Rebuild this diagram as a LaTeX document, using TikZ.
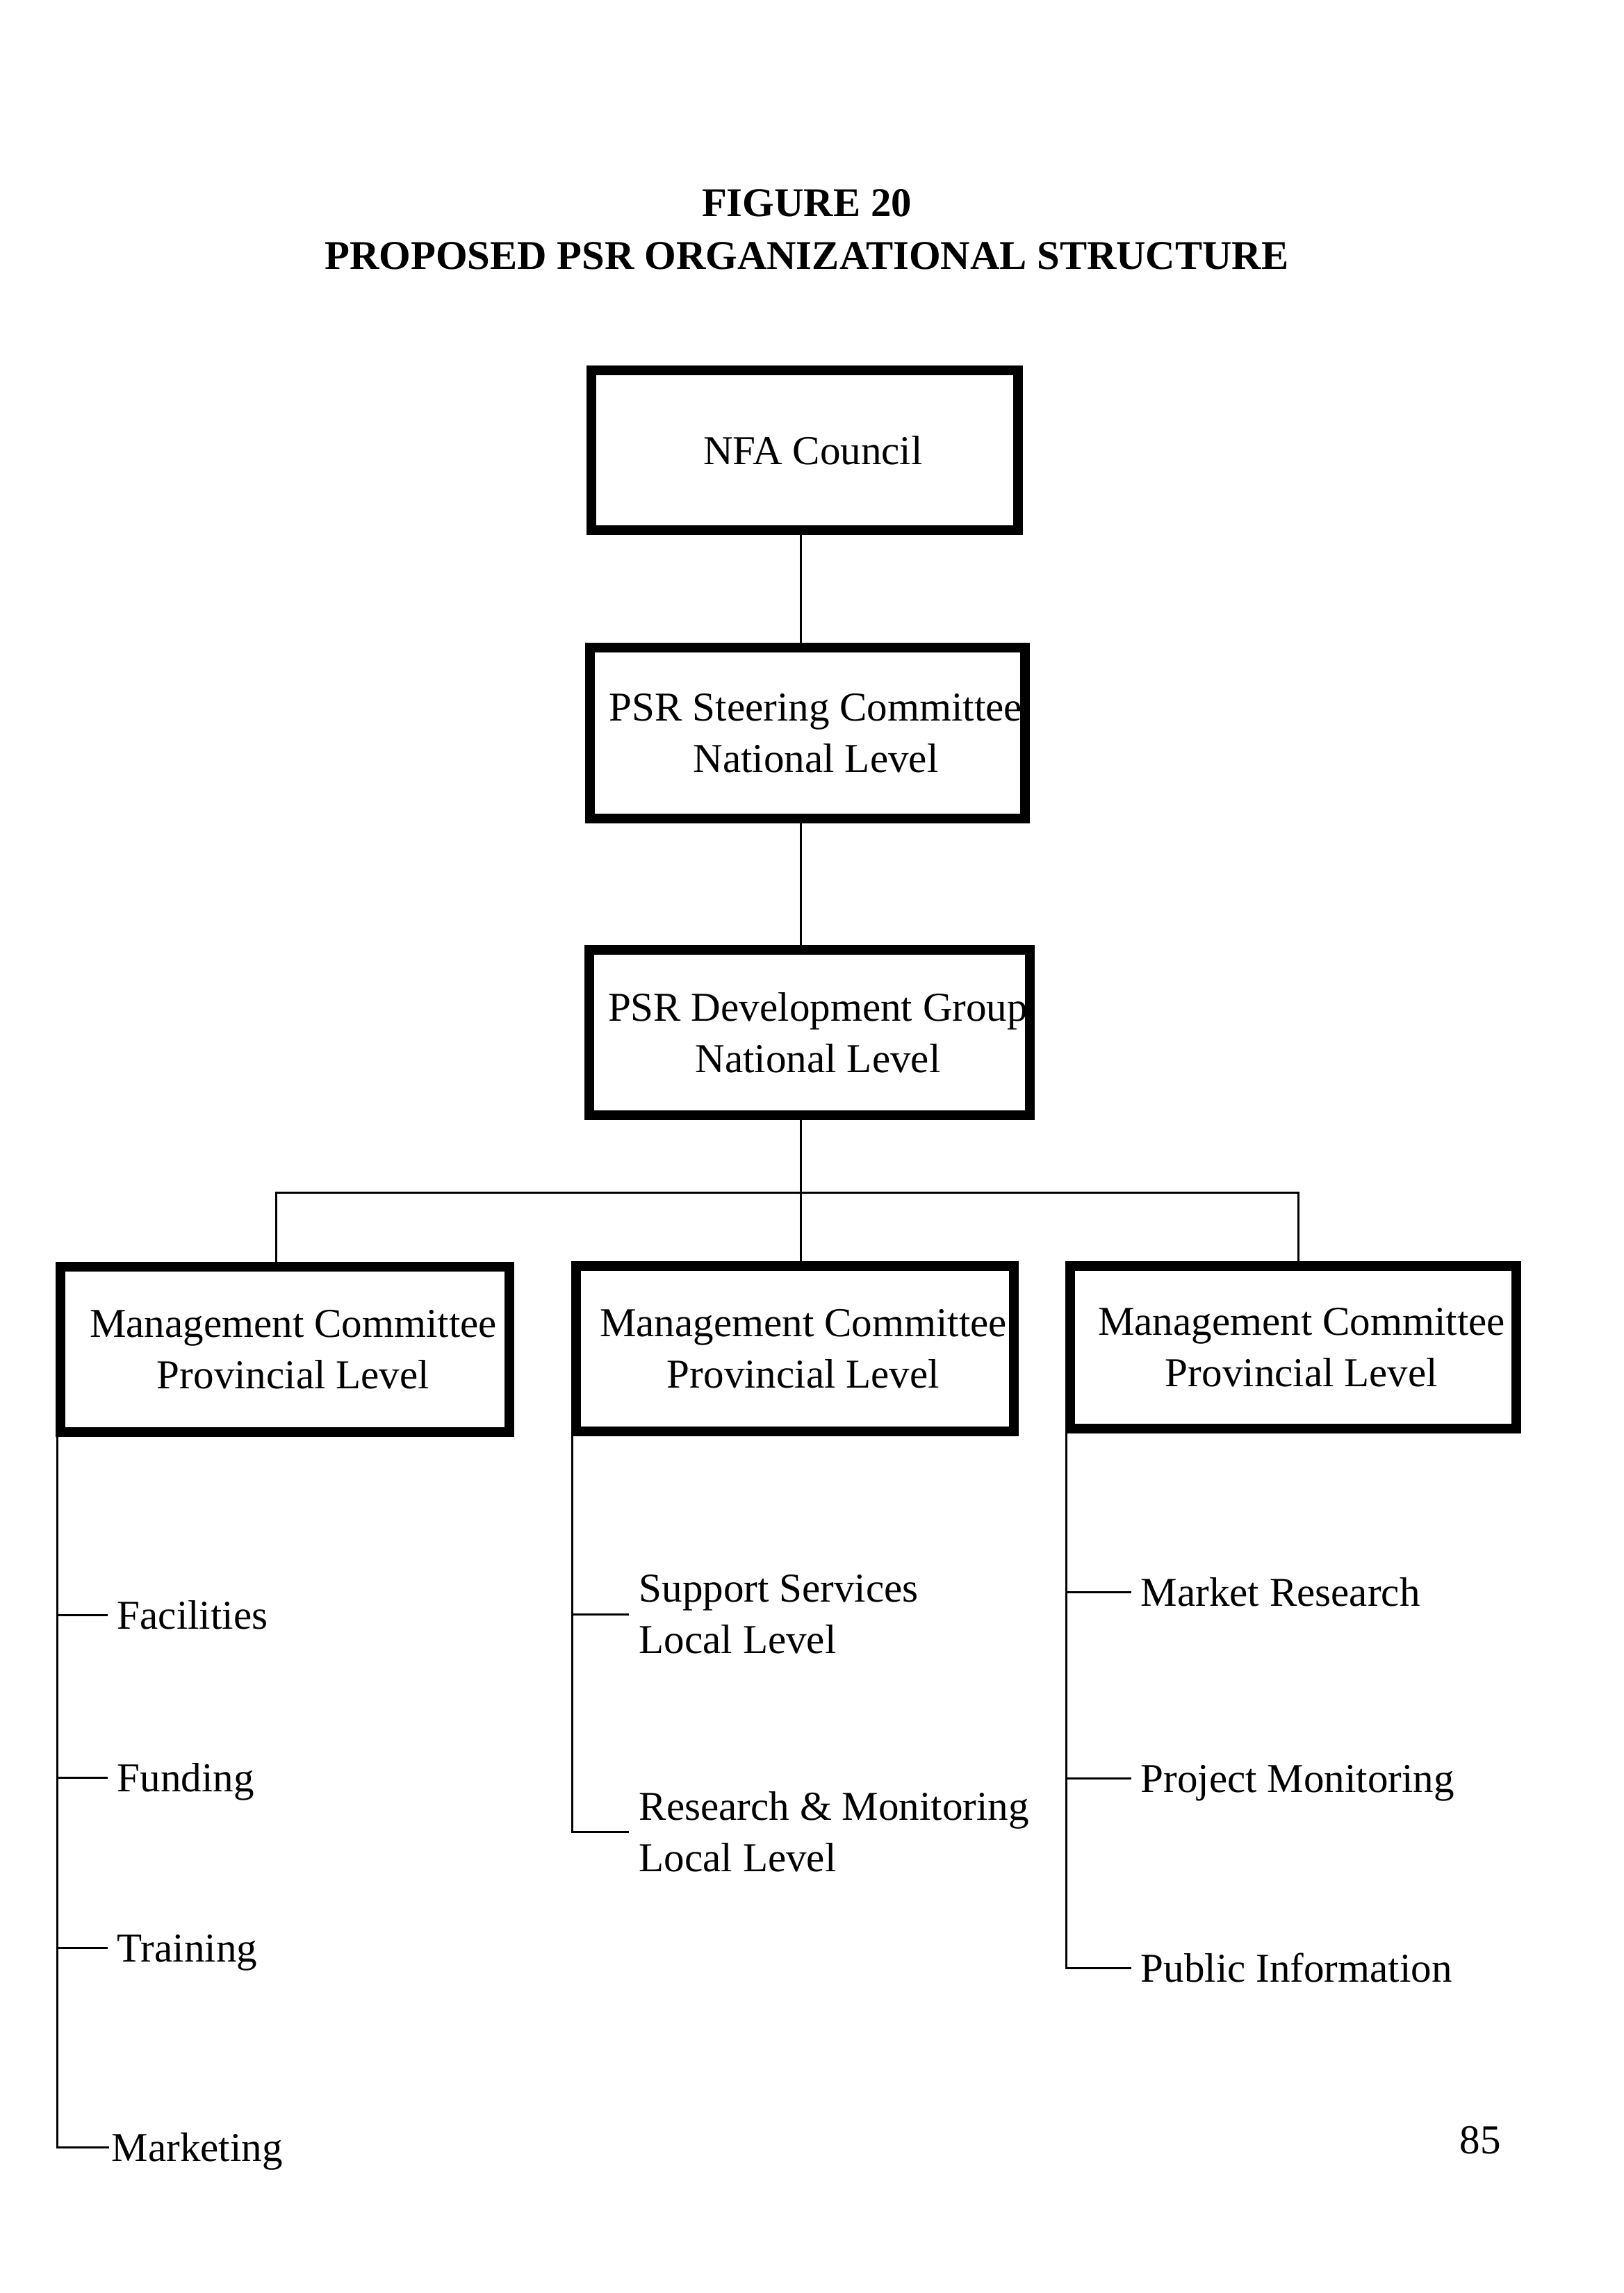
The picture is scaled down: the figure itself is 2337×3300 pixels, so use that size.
\documentclass[tikz,border=0pt]{standalone}
\usepackage{fontspec}
\setmainfont{Liberation Serif}
\newcommand\boxfont{\fontsize{16.8}{21}\selectfont}
\newcommand\titlefont{\fontsize{16.7}{21.6}\selectfont\bfseries}
\newcommand\sh{\hspace*{0.24cm}}
\tikzset{
  box/.style={draw, line width=0.14cm, inner sep=0pt, align=center, font=\boxfont, fill=white},
  conn/.style={line width=0.03cm},
  leaf/.style={anchor=west, inner xsep=0.13cm, inner ysep=0pt, text height=0.41cm, text depth=0pt, font=\boxfont},
  leaftwo/.style={anchor=west, inner xsep=0.14cm, inner ysep=0pt, align=left, font=\boxfont},
}
\begin{document}
\begin{tikzpicture}[x=0.01cm, y=-0.01cm]
\fill[white] (0,0) rectangle (2337,3300);
\useasboundingbox (0,0) rectangle (2337,3300);

% title and page number
\node[font=\titlefont, align=center, inner sep=0pt] (title) at (1161,330) {FIGURE 20\\PROPOSED PSR ORGANIZATIONAL STRUCTURE};
\node[font=\boxfont, inner sep=0pt] (pg) at (2130,3080) {85};

% trunk coordinates
\coordinate (tx) at (1152,0);
\coordinate (barL) at (397,1716);
\coordinate (barR) at (1868,1716);
\coordinate (tl) at (82,0);
\coordinate (tm) at (823,0);
\coordinate (tr) at (1534,0);

% boxes
\node[box, minimum width=6.13cm, minimum height=2.30cm] (nfa) at (1158,648) {\sh NFA Council};
\node[box, minimum width=6.25cm, minimum height=2.46cm] (steer) at (1162,1055) {\sh PSR Steering Committee\\\sh National Level};
\node[box, minimum width=6.33cm, minimum height=2.38cm] (dev) at (1165,1486) {\sh PSR Development Group\\\sh National Level};
\node[box, minimum width=6.46cm, minimum height=2.37cm] (mcl) at (410,1942) {\sh Management Committee\\\sh Provincial Level};
\node[box, minimum width=6.29cm, minimum height=2.38cm] (mcm) at (1144,1941) {\sh Management Committee\\\sh Provincial Level};
\node[box, minimum width=6.42cm, minimum height=2.34cm] (mcr) at (1861,1939) {\sh Management Committee\\\sh Provincial Level};

% leaves
\node[leaf] (fac) at (155,2324) {Facilities};
\node[leaf] (fun) at (155,2558) {Funding};
\node[leaf] (tra) at (155,2803) {Training};
\node[leaf, inner xsep=0.03cm] (mkt) at (157,3090) {Marketing};
\node[leaftwo] (sup) at (905,2323) {Support Services\\Local Level};
\node[leaftwo] (res) at (905,2636) {Research \& Monitoring\\Local Level};
\node[leaf] (mr) at (1628,2291) {Market Research};
\node[leaf] (pm) at (1628,2559) {Project Monitoring};
\node[leaf] (pi) at (1628,2832) {Public Information};

% connectors
\draw[conn] (nfa.south -| tx) -- (steer.north -| tx);
\draw[conn] (steer.south -| tx) -- (dev.north -| tx);
\draw[conn] (dev.south -| tx) -- (mcm.north -| tx);
\draw[conn] (mcl.north -| barL) -- (barL) -- (barR) -- (mcr.north -| barR);

\draw[conn] (mcl.south -| tl) -- (tl |- mkt.west) -- (mkt.west);
\draw[conn] (tl |- fac.west) -- (fac.west);
\draw[conn] (tl |- fun.west) -- (fun.west);
\draw[conn] (tl |- tra.west) -- (tra.west);

\draw[conn] (mcm.south -| tm) -- (tm |- res.west) -- (res.west);
\draw[conn] (tm |- sup.west) -- (sup.west);

\draw[conn] (mcr.south -| tr) -- (tr |- pi.west) -- (pi.west);
\draw[conn] (tr |- mr.west) -- (mr.west);
\draw[conn] (tr |- pm.west) -- (pm.west);
\end{tikzpicture}
\end{document}
